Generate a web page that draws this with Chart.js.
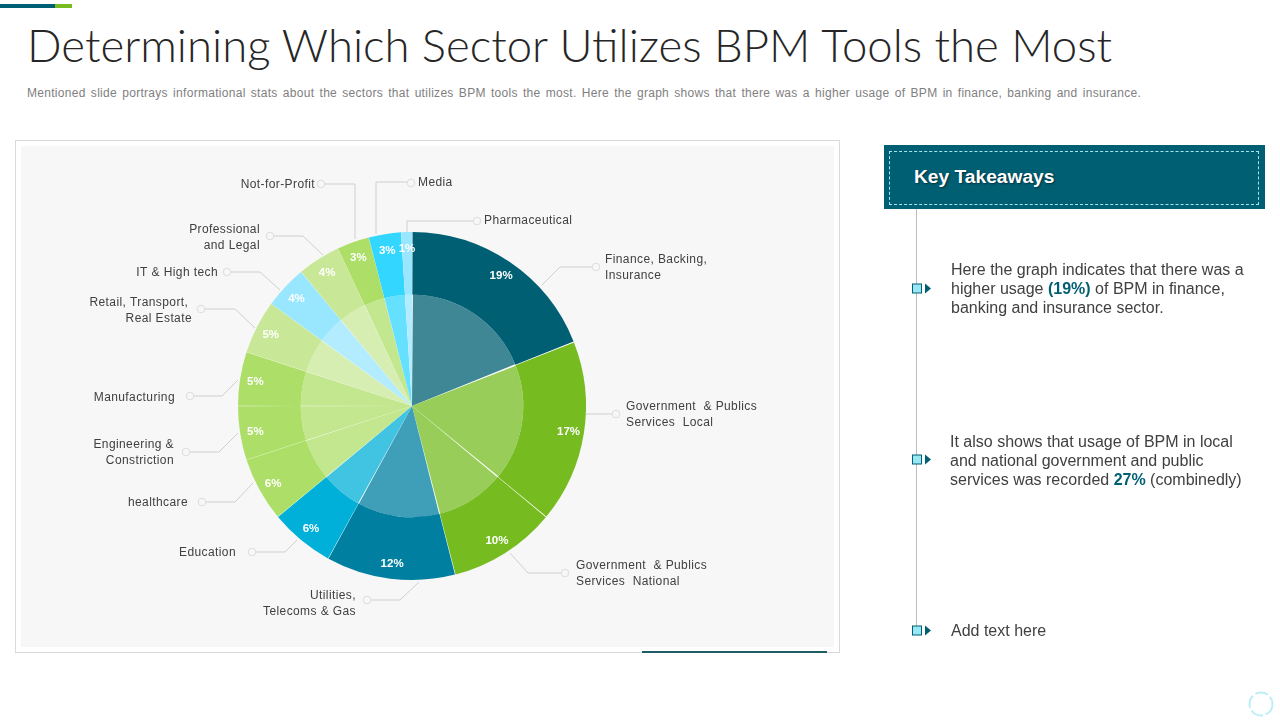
<!DOCTYPE html>
<html><head><meta charset="utf-8">
<script src="https://cdn.jsdelivr.net/npm/chart.js@4"></script>
<style>
html,body{margin:0;padding:0;background:#fff;width:1280px;height:720px;overflow:hidden;font-family:"Liberation Sans",Arial,sans-serif}
.a{position:absolute}
#title{left:27px;top:17px;font:300 45.5px/56px Lato,sans-serif;color:#262626;white-space:nowrap;letter-spacing:0}
#sub{left:27px;top:85px;font:12px/16px "Liberation Sans";color:#808080;white-space:nowrap;word-spacing:1.6px;letter-spacing:.29px}
.t{left:951px;font:16px/19px "Liberation Sans";color:#404040;white-space:nowrap}
.t b{color:#005f73}
</style></head><body>
<div class="a" style="left:0;top:4px;width:55px;height:4px;background:#005f73"></div>
<div class="a" style="left:55px;top:4px;width:17px;height:4px;background:#76bc21"></div>
<div id="title" class="a">Determining Which Sector Utilizes BPM Tools the Most</div>
<div id="sub" class="a">Mentioned slide portrays informational stats about the sectors that utilizes BPM tools the most. Here the graph shows that there was a higher usage of BPM in finance, banking and insurance.</div>
<div class="a" style="left:15px;top:140px;width:823px;height:511px;border:1px solid #d9d9d9;background:#fff"></div>
<div class="a" style="left:21px;top:146px;width:813px;height:501px;background:#f7f7f7"></div>
<div class="a" style="left:642px;top:651px;width:185px;height:2px;background:#1e5c66"></div>
<canvas id="c" class="a" width="1280" height="720" style="left:0;top:0;width:1280px;height:720px"></canvas>
<div class="a" style="left:884px;top:145px;width:381px;height:64px;background:#005f73"></div>
<div class="a" style="left:889px;top:151px;width:368px;height:52px;border:1px dashed #a5e4f0"></div>
<div class="a" style="left:914px;top:165px;font:bold 19.2px/24px 'Liberation Sans';color:#fff;text-shadow:1px 1px 2px rgba(0,0,0,.5)">Key Takeaways</div>
<div class="a" style="left:916px;top:209px;width:1px;height:421px;background:#bdbdbd"></div>
<svg class="a" style="left:905px;top:280px" width="30" height="360">
<g fill="#99e6f5" stroke="#005f73" stroke-width="1"><rect x="7.5" y="4" width="9" height="9"/><rect x="7.5" y="175" width="9" height="9"/><rect x="7.5" y="346" width="9" height="9"/></g>
<g fill="#005f73"><path d="M20 3.5l6 5-6 5z"/><path d="M20 174.5l6 5-6 5z"/><path d="M20 345.5l6 5-6 5z"/></g>
</svg>
<div class="a t" style="top:260px">Here the graph indicates that there was a<br>higher usage <b>(19%)</b> of BPM in finance,<br>banking and insurance sector.</div>
<div class="a t" style="top:432px;left:950px">It also shows that usage of BPM in local<br>and national government and public<br>services was recorded <b>27%</b> (combinedly)</div>
<div class="a t" style="top:621px">Add text here</div>
<svg class="a" style="left:1246px;top:689px" width="30" height="30"><circle cx="15" cy="15" r="11.5" fill="none" stroke="#bdeef6" stroke-width="2" stroke-dasharray="13 3"/></svg>
<script>
const categories = ["Finance, Backing,\nInsurance","Government  & Publics\nServices  Local","Government  & Publics\nServices  National","Utilities,\nTelecoms & Gas","Education","healthcare","Engineering &\nConstriction","Manufacturing","Retail, Transport, \nReal Estate","IT & High tech","Professional\nand Legal","Not-for-Profit","Media","Pharmaceutical"];
const shares = [19,17,10,12,6,6,5,5,5,4,4,3,3,1];
const outerColors = ["#005f73","#76bc21","#76bc21","#007fa0","#00b0d8","#addf68","#addf68","#addf68","#c8e898","#99e6ff","#c8e898","#addf68","#33d6ff","#99e6ff"];
const innerColors = ["#408796","#98cd59","#98cd59","#409fb8","#40c4e2","#c2e78e","#c2e78e","#c2e78e","#d6eeb2","#b3ecff","#d6eeb2","#c2e78e","#66e0ff","#b3ecff"];
// leader-line annotation layout, in page pixels
const leaders = [
 [[542,285],[560,267],[592,267]],[[586,414],[612,414]],[[510,553],[528,573],[561,573]],[[419,582],[400,600],[371,600]],
 [[297,540],[285,552],[256,552]],[[253,483],[235,502],[206,502]],[[238,433],[219,452],[190,452]],[[238,380],[222,396],[194,396]],
 [[255,328],[235,309],[205,309]],[[280,290],[260,272],[231,272]],[[323,255],[303,236],[274,236]],[[355,239],[355,184],[325,184]],
 [[376,234],[376,182],[407,182]],[[407,232],[407,221],[473,221]]];
const dots = [[596,267],[616,414],[565,573],[367,600],[252,552],[202,502],[186,452],[190,396],[201,309],[227,272],[270,236],[321,184],[411,183],[477,221]];
const textPos = [[605,268,"left"],[626,415,"left"],[576,574,"left"],[356,604,"right"],[236,553,"right"],[188,503,"right"],[174,453,"right"],[175,398,"right"],[192,311,"right"],[218,273,"right"],[260,238,"right"],[315,185,"right"],[418,183,"left"],[484,221,"left"]];

const annotate = {
  id:"annotate",
  beforeDatasetsDraw(chart){
    const ctx=chart.ctx; ctx.save();
    const m=chart.getDatasetMeta(0).data[0];
    ctx.fillStyle="#fff"; ctx.beginPath(); ctx.arc(m.x,m.y,m.outerRadius-1,0,Math.PI*2); ctx.fill();
    ctx.restore();
  },
  afterDatasetsDraw(chart){
    const ctx=chart.ctx; ctx.save();
    ctx.strokeStyle="#cfcfcf"; ctx.lineWidth=1;
    leaders.forEach(l=>{ctx.beginPath();l.forEach((p,i)=>i?ctx.lineTo(p[0],p[1]):ctx.moveTo(p[0],p[1]));ctx.stroke();});
    dots.forEach(d=>{ctx.beginPath();ctx.arc(d[0],d[1],3.8,0,Math.PI*2);ctx.fillStyle="#f7f7f7";ctx.fill();ctx.strokeStyle="#dcdcdc";ctx.stroke();});
    ctx.font='12px "Liberation Sans"'; ctx.fillStyle="#404040"; ctx.textBaseline="middle";
    if("letterSpacing" in ctx) ctx.letterSpacing="0.4px";
    categories.forEach((c,i)=>{const ls=c.split("\n"),p=textPos[i];ctx.textAlign=p[2];
      ls.forEach((s,j)=>ctx.fillText(s,p[0],p[1]+(j-(ls.length-1)/2)*16));});
    if("letterSpacing" in ctx) ctx.letterSpacing="0px";
    ctx.font='bold 11.5px "Liberation Sans"'; ctx.fillStyle="#fff"; ctx.textAlign="center";
    chart.getDatasetMeta(0).data.forEach((a,i)=>{
      const mid=(a.startAngle+a.endAngle)/2, r=a.outerRadius*0.915;
      ctx.fillText(shares[i]+"%",a.x+Math.cos(mid)*r,a.y+Math.sin(mid)*r+1);
    });
    ctx.restore();
  }
};
new Chart(document.getElementById("c"),{
  type:"pie",
  data:{labels:categories,datasets:[
    {data:shares,backgroundColor:outerColors,borderWidth:0,spacing:1.5,weight:63},
    {data:shares,backgroundColor:innerColors,borderWidth:0,spacing:1.5,weight:111}
  ]},
  options:{responsive:false,animation:false,devicePixelRatio:1,
    layout:{padding:{left:238,right:694,top:232,bottom:140}},
    plugins:{legend:{display:false},tooltip:{enabled:false}}},
  plugins:[annotate]
});
</script>
</body></html>
